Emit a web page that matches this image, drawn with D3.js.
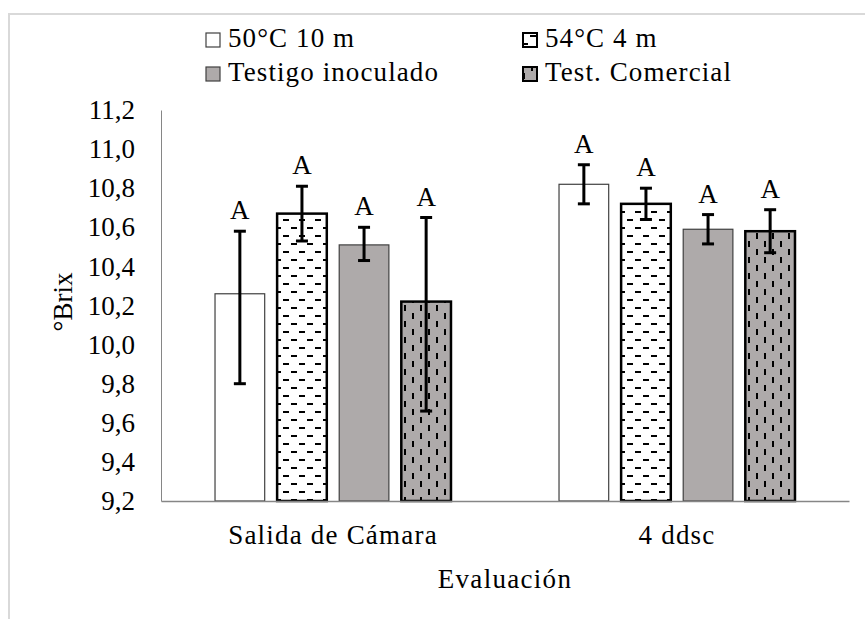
<!DOCTYPE html>
<html>
<head>
<meta charset="utf-8">
<script src="https://cdn.jsdelivr.net/npm/d3@7"></script>
<style>
  body { margin: 0; background: #fff; }
  svg text { font-family: "Liberation Serif", "DejaVu Serif", serif !important; fill: #000; }
</style>
</head>
<body>
<div id="chart"></div>
<script>
// data
var groups = ["Salida de Cámara", "4 ddsc"];
var series = ["50°C 10 m", "54°C 4 m", "Testigo inoculado", "Test. Comercial"];
var means = [
    [10.26, 10.67, 10.51, 10.22],
    [10.82, 10.72, 10.59, 10.58]
];
// error bar extents above and below the mean
var errHigh = [
    [0.32, 0.14, 0.09, 0.43],
    [0.10, 0.08, 0.075, 0.11]
];
var errLow = [
    [0.46, 0.14, 0.08, 0.56],
    [0.10, 0.08, 0.075, 0.11]
];
var letters = [
    ["A", "A", "A", "A"],
    ["A", "A", "A", "A"]
];
var yTicks = [9.2, 9.4, 9.6, 9.8, 10.0, 10.2, 10.4, 10.6, 10.8, 11.0, 11.2];
var xTitle = "Evaluación";
var yTitle = "°Brix";

function init() {
    var w = 865;
    var h = 619;
    var left = 161, right = 849, top = 110, bottom = 501;
    var fs = 27;

    var svg = d3.select("#chart")
        .append("svg")
        .attr("width", w)
        .attr("height", h);

    // patterns for the hatched bars
    var defs = svg.append("defs");
    var pDash = defs.append("pattern")
        .attr("id", "dash")
        .attr("patternUnits", "userSpaceOnUse")
        .attr("width", 16).attr("height", 16);
    pDash.append("rect").attr("width", 16).attr("height", 16).attr("fill", "#fff");
    pDash.append("line").attr("x1", 2).attr("x2", 8).attr("y1", 4).attr("y2", 4)
        .attr("stroke", "#000").attr("stroke-width", 2);
    pDash.append("line").attr("x1", 10).attr("x2", 16).attr("y1", 12).attr("y2", 12)
        .attr("stroke", "#000").attr("stroke-width", 2);

    var pDot = defs.append("pattern")
        .attr("id", "dots")
        .attr("patternUnits", "userSpaceOnUse")
        .attr("width", 16).attr("height", 16);
    pDot.append("rect").attr("width", 16).attr("height", 16).attr("fill", "#aeaaaa");
    pDot.append("line").attr("x1", 4).attr("x2", 4).attr("y1", 1).attr("y2", 7)
        .attr("stroke", "#000").attr("stroke-width", 2);
    pDot.append("line").attr("x1", 12).attr("x2", 12).attr("y1", 9).attr("y2", 15)
        .attr("stroke", "#000").attr("stroke-width", 2);

    var fills = ["#ffffff", "url(#dash)", "#aeaaaa", "url(#dots)"];
    var strokes = ["#404040", "#000", "#404040", "#000"];
    var strokeW = [1.2, 2.5, 1.2, 2.5];

    // figure border (light gray frame)
    svg.append("path")
        .attr("d", "M9," + h + " V14 H" + w)
        .attr("fill", "none")
        .attr("stroke", "#d9d9d9")
        .attr("stroke-width", 2);

    var x0 = d3.scaleBand().domain(groups).range([left, right]);
    var x1 = d3.scaleBand().domain(series)
        .range([0, x0.bandwidth()])
        .paddingInner(0.2)
        .paddingOuter(0.87);
    var yScale = d3.scaleLinear().domain([9.2, 11.2]).range([bottom, top]);

    // y tick labels
    var yAxis = d3.axisLeft(yScale)
        .tickValues(yTicks)
        .tickSize(0)
        .tickPadding(26)
        .tickFormat(function(d) { return d3.format(".1f")(d).replace(".", ","); });
    var gy = svg.append("g")
        .attr("transform", "translate(" + left + ",0)")
        .call(yAxis)
        .attr("font-family", null)
        .attr("font-size", fs);
    gy.select(".domain").attr("stroke", "#868686").attr("stroke-width", 1);

    // bars
    groups.forEach(function(g, gi) {
        var gEl = svg.append("g").attr("transform", "translate(" + x0(g) + ",0)");
        series.forEach(function(s, si) {
            var v = means[gi][si];
            gEl.append("rect")
                .attr("x", x1(s))
                .attr("y", yScale(v))
                .attr("width", x1.bandwidth())
                .attr("height", yScale(9.2) - yScale(v))
                .attr("fill", fills[si])
                .attr("stroke", strokes[si])
                .attr("stroke-width", strokeW[si]);
        });
        // error bars and letters
        series.forEach(function(s, si) {
            var v = means[gi][si];
            var hi = v + errHigh[gi][si], lo = v - errLow[gi][si];
            var cx = x1(s) + x1.bandwidth() / 2;
            gEl.append("line")
                .attr("x1", cx).attr("x2", cx)
                .attr("y1", yScale(hi)).attr("y2", yScale(lo))
                .attr("stroke", "#000").attr("stroke-width", 3);
            [hi, lo].forEach(function(t) {
                gEl.append("line")
                    .attr("x1", cx - 6).attr("x2", cx + 6)
                    .attr("y1", yScale(t)).attr("y2", yScale(t))
                    .attr("stroke", "#000").attr("stroke-width", 3);
            });
            gEl.append("text")
                .attr("x", cx)
                .attr("y", yScale(hi) - 12)
                .attr("text-anchor", "middle")
                .attr("font-size", fs)
                .text(letters[gi][si]);
        });
    });

    // x axis
    var xAxis = d3.axisBottom(x0).tickSize(0).tickPadding(24);
    var gx = svg.append("g")
        .attr("transform", "translate(0," + bottom + ")")
        .call(xAxis)
        .attr("font-family", null)
        .attr("font-size", fs);
    gx.selectAll("text").attr("letter-spacing", 1.2);
    gx.select(".domain").attr("stroke", "#868686").attr("stroke-width", 1.5);

    // axis titles
    svg.append("text")
        .attr("x", (left + right) / 2)
        .attr("y", 588)
        .attr("text-anchor", "middle")
        .attr("font-size", fs)
        .attr("letter-spacing", 1.3)
        .text(xTitle);
    svg.append("text")
        .attr("transform", "translate(72,302) rotate(-90)")
        .attr("text-anchor", "middle")
        .attr("font-size", fs)
        .text(yTitle);

    // legend
    var legX = [206, 523];
    var legY = [40, 74];
    series.forEach(function(s, si) {
        var lx = legX[si % 2], ly = legY[Math.floor(si / 2)];
        svg.append("rect")
            .attr("x", lx).attr("y", ly - 7)
            .attr("width", 14).attr("height", 14)
            .attr("fill", fills[si])
            .attr("stroke", strokes[si])
            .attr("stroke-width", si % 2 ? 2 : 1.2);
        svg.append("text")
            .attr("x", lx + 22)
            .attr("y", ly + 7)
            .attr("font-size", fs)
            .attr("letter-spacing", 1.1)
            .text(s);
    });
}

init();
</script>
</body>
</html>
